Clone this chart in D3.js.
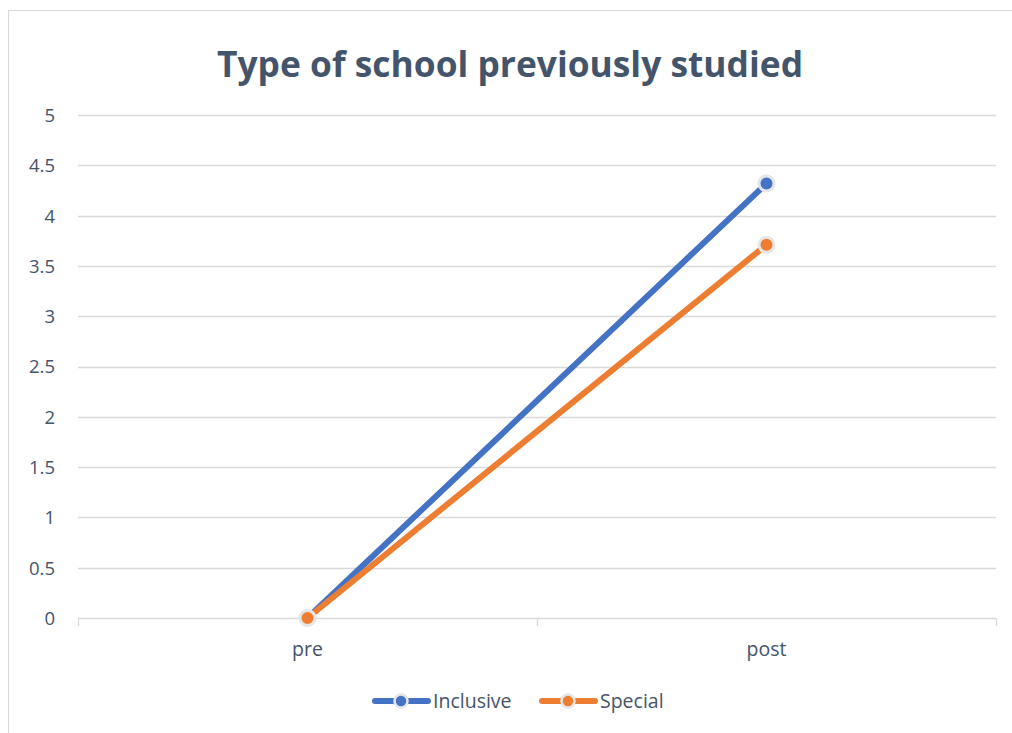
<!DOCTYPE html>
<html>
<head>
<meta charset="utf-8">
<script src="https://cdn.jsdelivr.net/npm/d3@7"></script>
<style>
  html, body { margin: 0; padding: 0; background: #ffffff; }
  svg { display: block; font-family: "Open Sans", "Liberation Sans", sans-serif; }
</style>
</head>
<body>
<svg id="chart" width="1012" height="733"></svg>
<script>
// Chart data
const categories = ["pre", "post"];
const inclusiveValues = [0, 4.32];
const specialValues = [0, 3.71];
const yTicks = [0, 0.5, 1, 1.5, 2, 2.5, 3, 3.5, 4, 4.5, 5];
const seriesNames = ["Inclusive", "Special"];
const seriesColors = ["#4472C4", "#ED7D31"];

const series = [
  { name: seriesNames[0], values: inclusiveValues, color: seriesColors[0] },
  { name: seriesNames[1], values: specialValues, color: seriesColors[1] }
];

const svg = d3.select("#chart");
const textColor = "#44546A";
const gridColor = "#D9D9D9";

// Outer chart frame
svg.append("rect")
  .attr("x", 8.5).attr("y", 10.5)
  .attr("width", 1012).attr("height", 740)
  .attr("fill", "#ffffff")
  .attr("stroke", "#D9D9D9").attr("stroke-width", 1);

const plot = { left: 78, right: 996, top: 115, bottom: 618 };

const x = d3.scaleBand().domain(categories).range([plot.left, plot.right]).padding(0);
const y = d3.scaleLinear().domain([0, 5]).range([plot.bottom, plot.top]);

// Title
svg.append("text")
  .attr("x", 510).attr("y", 77)
  .attr("text-anchor", "middle")
  .attr("font-size", 36).attr("font-weight", "bold")
  .attr("fill", textColor)
  .attr("textLength", 586).attr("lengthAdjust", "spacingAndGlyphs")
  .text("Type of school previously studied");

// Horizontal gridlines
svg.append("g")
  .selectAll("line")
  .data(yTicks.filter(d => d > 0))
  .join("line")
  .attr("x1", plot.left).attr("x2", plot.right)
  .attr("y1", d => Math.round(y(d)) + 0.5).attr("y2", d => Math.round(y(d)) + 0.5)
  .attr("stroke", gridColor).attr("stroke-width", 1.3);

// Y axis labels
const yAxis = d3.axisLeft(y).tickValues(yTicks).tickSize(0).tickPadding(0).tickFormat(d3.format("~g"));
const yg = svg.append("g").attr("transform", `translate(${plot.left - 23},0)`).call(yAxis);
yg.select(".domain").remove();
yg.selectAll("text")
  .attr("font-size", 18.5).attr("fill", textColor)
  .attr("font-family", "'Open Sans', sans-serif")
  .attr("dy", "0.35em");

// X axis with category tick marks at band boundaries
const xg = svg.append("g");
xg.append("line")
  .attr("x1", plot.left).attr("x2", plot.right)
  .attr("y1", y(0) + 0.5).attr("y2", y(0) + 0.5)
  .attr("stroke", gridColor).attr("stroke-width", 1.3);
const boundaries = categories.map(c => x(c)).concat([x(categories[categories.length - 1]) + x.bandwidth()]);
xg.selectAll("line.tick")
  .data(boundaries)
  .join("line")
  .attr("class", "tick")
  .attr("x1", d => d + 0.5).attr("x2", d => d + 0.5)
  .attr("y1", y(0)).attr("y2", y(0) + 8)
  .attr("stroke", gridColor).attr("stroke-width", 1.3);
xg.selectAll("text")
  .data(categories)
  .join("text")
  .attr("x", d => x(d) + x.bandwidth() / 2)
  .attr("y", 656)
  .attr("text-anchor", "middle")
  .attr("font-size", 19.5).attr("fill", textColor)
  .text(d => d);

// Series lines and markers
const line = d3.line()
  .x((d, i) => x(categories[i]) + x.bandwidth() / 2)
  .y(d => y(d));

series.forEach(s => {
  svg.append("path")
    .datum(s.values)
    .attr("d", line)
    .attr("fill", "none")
    .attr("stroke", s.color)
    .attr("stroke-width", 6)
    .attr("stroke-linecap", "round");
});
series.forEach(s => {
  svg.append("g")
    .selectAll("circle")
    .data(s.values)
    .join("circle")
    .attr("cx", (d, i) => x(categories[i]) + x.bandwidth() / 2)
    .attr("cy", d => y(d))
    .attr("r", 7.5)
    .attr("fill", s.color)
    .attr("stroke", "#E6E6E6")
    .attr("stroke-width", 3);
});

// Legend
const legendItems = [
  { name: seriesNames[0], color: seriesColors[0], x: 373 },
  { name: seriesNames[1], color: seriesColors[1], x: 540 }
];
const lg = svg.append("g");
legendItems.forEach(item => {
  const g = lg.append("g").attr("transform", `translate(${item.x},701)`);
  g.append("line")
    .attr("x1", 2).attr("x2", 55).attr("y1", 0).attr("y2", 0)
    .attr("stroke", item.color).attr("stroke-width", 6).attr("stroke-linecap", "round");
  g.append("circle")
    .attr("cx", 28).attr("cy", 0).attr("r", 6.5)
    .attr("fill", item.color).attr("stroke", "#E6E6E6").attr("stroke-width", 2.5);
  g.append("text")
    .attr("x", 60).attr("y", 0).attr("dy", "0.35em")
    .attr("font-size", 19.5).attr("fill", textColor)
    .text(item.name);
});
</script>
</body>
</html>
